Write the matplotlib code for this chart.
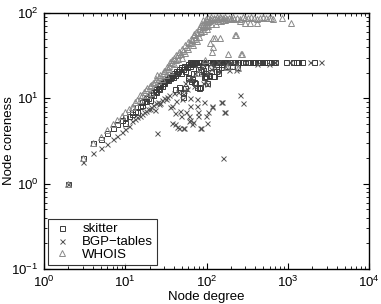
import matplotlib
matplotlib.use("Agg")
import matplotlib.pyplot as plt
from matplotlib.ticker import LogLocator, LogFormatterMathtext, NullFormatter

plt.rcParams['font.family'] = ['Liberation Sans', 'DejaVu Sans']
plt.rcParams['mathtext.fontset'] = 'custom'
plt.rcParams['mathtext.rm'] = 'Liberation Sans'
plt.rcParams['mathtext.it'] = 'Liberation Sans:italic'
plt.rcParams['mathtext.default'] = 'regular'

# ---------------- data (degree, average coreness) ----------------
skitter_deg = [2, 3, 4, 5, 6, 7, 8, 9, 10, 10, 11, 12, 12, 13, 14, 14, 15, 16, 16, 17, 18, 18, 19, 20, 20,
               21, 22, 22, 23, 24, 24, 25, 26, 26, 27, 28, 28, 29, 30, 30, 31, 32, 33, 34, 35, 36, 37, 38,
               39, 40, 41, 42, 43, 45, 46, 48, 49, 51, 53, 55, 57, 59, 62, 64, 67, 70,
               41, 46, 51, 51, 54, 52, 59, 60, 68, 74, 76, 81, 83, 88, 93, 98, 101, 107, 107, 120, 124,
               130, 138, 65, 66, 72, 70, 78, 83, 85, 90, 95, 96, 110, 140, 150, 205, 180, 235, 160,
               63, 66, 70, 72, 75, 78, 80, 83, 86, 90, 93, 96, 100, 104, 108, 112, 116, 120, 125, 130,
               135, 140, 146, 152, 158, 165, 172, 180, 188, 196, 205, 215, 225, 235, 245, 258, 270, 285,
               300, 320, 340, 360, 380, 400, 425, 450, 480, 510, 540, 580, 620, 660, 700, 960, 1150,
               1250, 1350, 1500, 2100]
skitter_core = [1, 2, 3, 3.3, 3.9, 4.5, 5, 5.5, 5.2, 6, 6.2, 6.5, 7, 7.2, 7, 8, 8.1, 8.3, 9, 9.2, 9.3, 10,
                10.2, 9.6, 11, 11.2, 10.8, 12, 12.3, 12, 13, 13.3, 13, 14, 14.2, 14, 15, 15.3, 15, 16,
                16.2, 16.5, 17, 16.6, 18, 17.2, 18, 19, 18, 20, 19, 21, 20, 21, 22, 20, 23, 22, 24, 21,
                23, 25, 24, 26, 25, 26,
                13, 13.5, 10.3, 11.5, 13.2, 12, 17.5, 18, 20, 19.7, 13.5, 13.2, 13.5, 24.5, 18, 18.5, 15,
                18.3, 19, 18.5, 18.3, 21, 19.7, 16, 17, 15, 15.5, 22, 22, 21, 21.5, 20, 18.3, 23, 22, 23,
                24, 24, 23, 25,
                27, 27, 26.5, 27, 27, 26.5, 27, 27, 27, 26.5, 27, 27, 27, 26.5, 27, 27, 27, 26.5, 27, 27,
                27, 26.5, 27, 27, 27, 26.5, 27, 27, 27, 27, 26.5, 27, 27, 27, 26.5, 27, 27, 27,
                27, 26.5, 27, 27, 27, 27, 26.5, 27, 27, 27, 27, 27, 26.5, 27, 27, 27, 27,
                27, 27, 27, 27]

bgp_deg = [2, 3, 4, 5, 6, 7, 8, 9, 10, 11, 12, 13, 14, 15, 16, 17, 18, 19, 20, 21, 22, 23, 24, 25, 26, 27,
           28, 30, 32, 33, 35, 36, 38, 40, 42, 44, 47, 48, 50, 51, 53, 56, 58, 61, 63, 63, 66, 68, 70,
           76, 76, 79, 79, 83, 86, 90, 93, 98, 101, 101, 104, 117, 117, 150, 155, 160, 164, 168, 230,
           260, 280, 24.5, 41, 43, 46, 53, 61, 41, 51, 63, 38,
           55, 60, 65, 72, 80, 88, 95, 100, 115, 125, 140, 170, 190,
           90, 110, 140, 180, 200, 230, 300, 417, 590, 700, 1060, 1870, 2600]
bgp_core = [1, 1.8, 2.3, 2.6, 2.9, 3.3, 3.6, 4, 4.4, 4.8, 5.4, 5.7, 6, 6.2, 6.5, 7, 7.2, 7.5, 7.6, 8, 8.3,
            7.3, 8.7, 9, 8.5, 8.8, 9.5, 10, 9.8, 10.5, 11, 7.9, 8.1, 11.5, 9.3, 12, 7.1, 6.2, 9.8, 11.2,
            12.5, 7, 13, 6.2, 10, 8.1, 5, 5.3, 14, 9.9, 8.1, 7, 6.2, 4.5, 4.5, 15, 9, 6.2, 5.2, 14.7, 7,
            7.9, 8.1, 9, 9, 2, 7, 7, 21.5, 10.9, 8.8, 3.9, 5, 4.6, 4.5, 4.5, 5.4, 6.7, 4.5, 5.6, 5.2,
            15, 17, 18, 20, 22, 23, 16, 20, 22, 24, 21, 24, 21.5,
            26, 25, 27, 26, 27, 25, 27, 25.5, 25.5, 27, 27, 27, 27]

whois_deg = [2, 3, 4, 5, 6, 7, 8, 9, 10, 11, 12, 12.5, 13, 14, 15, 15, 16, 17, 18, 18.5, 19, 20, 21, 21,
             22, 23, 24, 24.5, 25, 26, 27, 28, 29, 30, 31, 32, 33, 34, 35, 35.5, 36, 38, 38, 40, 40, 42,
             42, 44.6, 45, 46, 48, 50, 50, 52, 54, 55, 57, 59, 60, 62, 64, 66, 68, 70, 72, 74, 76, 78,
             80, 82, 84, 86, 88, 90, 92, 95, 96, 98, 100, 105, 108, 110, 115, 117, 120, 121, 125, 127,
             130, 135, 140, 145, 146, 150, 160, 170, 180, 183, 190, 200, 210, 225, 230, 240, 245, 255,
             265, 275, 280, 300, 300, 320, 340, 350, 380, 415, 420, 460, 500, 540, 580, 620, 650, 850,
             1100, 79, 180, 110, 65, 75, 85, 95, 105, 115, 125, 140, 160, 200, 70, 90, 100, 130, 150,
             170, 220, 260, 93, 103, 113]
whois_core = [1, 2, 3, 3.5, 4.2, 5, 5.5, 6.2, 7, 7.5, 8, 7.9, 9, 9.5, 9.6, 11, 11, 12, 12.5, 13.3, 11, 14,
              11.5, 14.5, 15, 15.5, 17, 18.8, 16, 18, 19, 17, 20, 21, 21, 19, 23, 22, 24, 26.6, 21, 26,
              28, 25, 30, 28, 32, 32, 29, 35, 33, 38, 30, 36, 42, 34, 40, 46, 38, 44, 50, 48, 42, 55, 50,
              60, 47, 58, 65, 53, 70, 62, 75, 83, 68, 78, 28, 85, 72, 88, 80, 86, 90, 35, 51, 40, 88, 51,
              84, 89, 86, 90, 51, 88, 87, 89, 86, 33, 88, 87, 90, 55, 55, 88, 22.5, 86, 33, 33, 89, 76,
              88, 87, 77, 89, 88, 76, 86, 88, 89, 87, 88, 88, 86, 88,
              76, 20, 23, 44, 45, 52, 60, 70, 78, 82, 84, 80, 83, 85, 57, 72, 65, 75, 80, 82, 84, 80,
              62, 70, 74]

# ---------------- figure ----------------
fig = plt.figure(figsize=(3.81, 3.04), dpi=100)
ax = fig.add_axes([44 / 381, 35 / 304, 325 / 381, 256 / 304])

ax.plot(skitter_deg, skitter_core, ls='none', marker='s', ms=3.6, mfc='none',
        mec='#3a3a3a', mew=0.7, label='skitter')
ax.plot(bgp_deg, bgp_core, ls='none', marker='x', ms=3.6, mec='#555555', mew=0.7,
        label='BGP\u2212tables')
ax.plot(whois_deg, whois_core, ls='none', marker='^', ms=5, mfc='none',
        mec='#8a8a8a', mew=0.7, label='WHOIS')

ax.set_xscale('log')
ax.set_yscale('log')
ax.set_xlim(1, 1e4)
ax.set_ylim(0.1, 100)

for axis in (ax.xaxis, ax.yaxis):
    axis.set_major_locator(LogLocator(base=10, numticks=10))
    axis.set_minor_locator(LogLocator(base=10, subs=range(2, 10), numticks=10))
    axis.set_major_formatter(LogFormatterMathtext())
    axis.set_minor_formatter(NullFormatter())

ax.tick_params(which='both', direction='in', top=True, right=True, labelsize=9.5, colors='black')
ax.tick_params(which='major', length=4.5, width=0.8, pad=4)
ax.tick_params(which='minor', length=2.2, width=0.6)
for s in ax.spines.values():
    s.set_linewidth(1.0)

ax.set_xlabel('Node degree', fontsize=9.5, labelpad=1)
ax.set_ylabel('Node coreness', fontsize=9.5)
ax.yaxis.set_label_coords(-0.090, 0.5)

leg = ax.legend(loc='lower left', fontsize=9.5, frameon=True, fancybox=False,
                edgecolor='black', borderaxespad=0.3, handletextpad=0.8,
                labelspacing=0.05, borderpad=0.3, handlelength=1.5)
leg.get_frame().set_linewidth(0.8)

fig.savefig('out.png', dpi=100)
